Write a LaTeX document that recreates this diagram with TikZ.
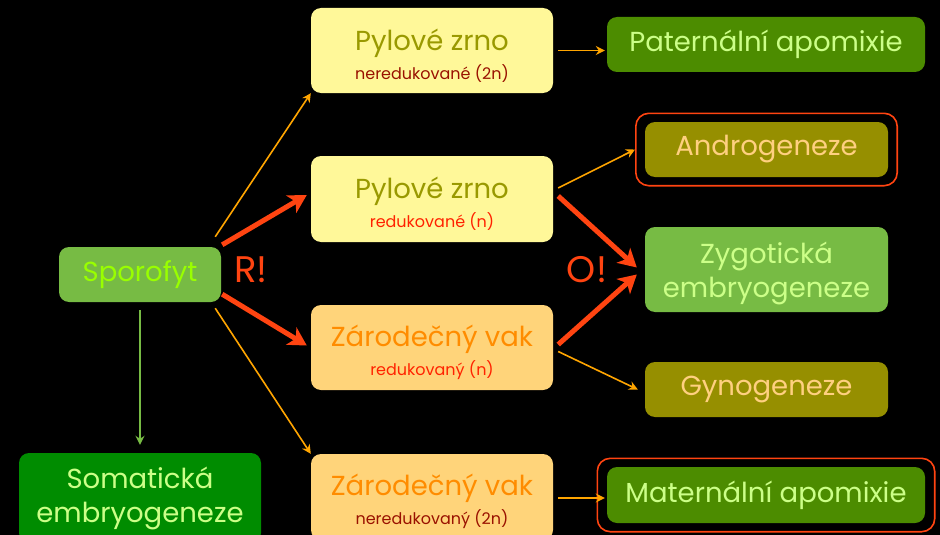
\documentclass[tikz,border=0pt]{standalone}
\usepackage{fontspec}
\setmainfont{Poppins}
\usetikzlibrary{arrows.meta,fit}
\definecolor{bg}{HTML}{000000}
\definecolor{leaf}{HTML}{77BB44}
\definecolor{lime}{HTML}{99FF00}
\definecolor{pale}{HTML}{CCFF88}
\definecolor{deep}{HTML}{008C00}
\definecolor{moss}{HTML}{4C8C00}
\definecolor{olive}{HTML}{968F00}
\definecolor{cream}{HTML}{FFF899}
\definecolor{peach}{HTML}{FFD47A}
\definecolor{ochre}{HTML}{999900}
\definecolor{amber}{HTML}{FF8C00}
\definecolor{sand}{HTML}{FFD080}
\definecolor{brick}{HTML}{991100}
\definecolor{flame}{HTML}{FF2200}
\definecolor{ember}{HTML}{FF4411}
\definecolor{gold}{HTML}{FFA500}
\newcommand\subsize{\fontsize{16}{18}\selectfont}
\newcommand\hoist[1]{\rule{0pt}{#1}}
\tikzset{
  box/.style={rounded corners=10pt,inner sep=0pt,align=center,font=\fontsize{27.5}{34}\selectfont},
  ring/.style={draw=ember,line width=1.6pt,rounded corners=13pt,inner sep=0pt},
  slim/.style={draw=gold,line width=1.6pt,-{Stealth[length=9pt,width=9pt,inset=3pt]}},
  bold/.style={draw=ember,line width=5pt,-{Stealth[length=18pt,width=20pt,inset=5pt]}},
  sign/.style={text=ember,font=\fontsize{37}{37}\selectfont}
}
\begin{document}
\begin{tikzpicture}[x=1pt,y=-1pt]
\clip (0,0) rectangle (940,535);
\fill[bg] (0,0) rectangle (940,535);
%
\node[box,fill=leaf,text=lime,minimum width=162pt,minimum height=55pt] (spor) at (140,274.5) {Sporofyt};
\node[box,fill=deep,text=pale,minimum width=242pt,minimum height=90pt] (soma) at (140,498) {Somatická\\embryogeneze};
%
\node[box,fill=cream,text=ochre,minimum width=242pt,minimum height=85pt] (pyl2n) at (432,50.5) {\hoist{31pt}Pylové zrno\\[-5pt]{\subsize\color{brick}neredukované (2n)}};
\node[box,fill=cream,text=ochre,minimum width=242pt,minimum height=86pt] (pyln) at (432,199) {\hoist{31pt}Pylové zrno\\[-5pt]{\subsize\color{flame}redukované (n)}};
\node[box,fill=peach,text=amber,minimum width=242pt,minimum height=85pt] (zarn) at (432,347.5) {\hoist{31pt}Zárodečný vak\\[-5pt]{\subsize\color{flame}redukovaný (n)}};
\node[box,fill=peach,text=amber,minimum width=242pt,minimum height=86pt] (zar2n) at (432,497) {\hoist{31pt}Zárodečný vak\\[-5pt]{\subsize\color{brick}neredukovaný (2n)}};
%
\node[box,fill=moss,text=pale,minimum width=318pt,minimum height=55pt] (pater) at (766,44.5) {Paternální apomixie};
\node[box,fill=olive,text=sand,minimum width=243pt,minimum height=55pt] (andro) at (766.5,149.5) {Androgeneze};
\node[box,fill=leaf,text=pale,minimum width=243pt,minimum height=85pt] (zygo) at (766.5,269.5) {\hoist{30pt}Zygotická\\embryogeneze};
\node[box,fill=olive,text=sand,minimum width=243pt,minimum height=55pt] (gyno) at (766.5,389.5) {Gynogeneze};
\node[box,fill=moss,text=pale,minimum width=318pt,minimum height=56pt] (mater) at (766,495) {Maternální apomixie};
\node[ring,fit=(andro),inner xsep=9pt,inner ysep=8.5pt] (androf) {};
\node[ring,fit=(mater),inner xsep=9.5pt,inner ysep=8.5pt] (materf) {};
%
\node[sign] (r) at (251,270) {R!};
\node[sign] (o) at (587,270) {O!};
%
\draw[slim] ([shift={(-6,-10)}]spor.north east) -- (pyl2n.south west);
\draw[bold] ([shift={(1,-2)}]spor.north east) -- ([shift={(-4,-4)}]pyln.west);
\draw[bold] ([shift={(1,-8)}]spor.south east) -- ([shift={(-4,-2)}]zarn.west);
\draw[slim] ([shift={(-6,6)}]spor.south east) -- (zar2n.north west);
\draw[draw=leaf,line width=1.6pt,-{Stealth[length=9pt,width=9pt,inset=3pt]},shorten <=8pt,shorten >=8pt] (spor) -- (soma);
%
\draw[slim,shorten <=5pt,shorten >=2pt] (pyl2n.east) -- (pyl2n.east -| pater.west);
\draw[slim] ([shift={(5,-11)}]pyln.east) -- (androf.west);
\draw[bold] ([shift={(5,-3)}]pyln.east) -- ([shift={(-8,-2)}]zygo.west);
\draw[bold] ([shift={(5,-3)}]zarn.east) -- ([shift={(-8,5)}]zygo.west);
\draw[slim] ([shift={(5,4)}]zarn.east) -- ([shift={(-7,0)}]gyno.west);
\draw[slim,shorten <=5pt,shorten >=2pt] ([yshift=-1pt]zar2n.east) -- ([yshift=-1pt]zar2n.east -| mater.west);
\end{tikzpicture}
\end{document}
